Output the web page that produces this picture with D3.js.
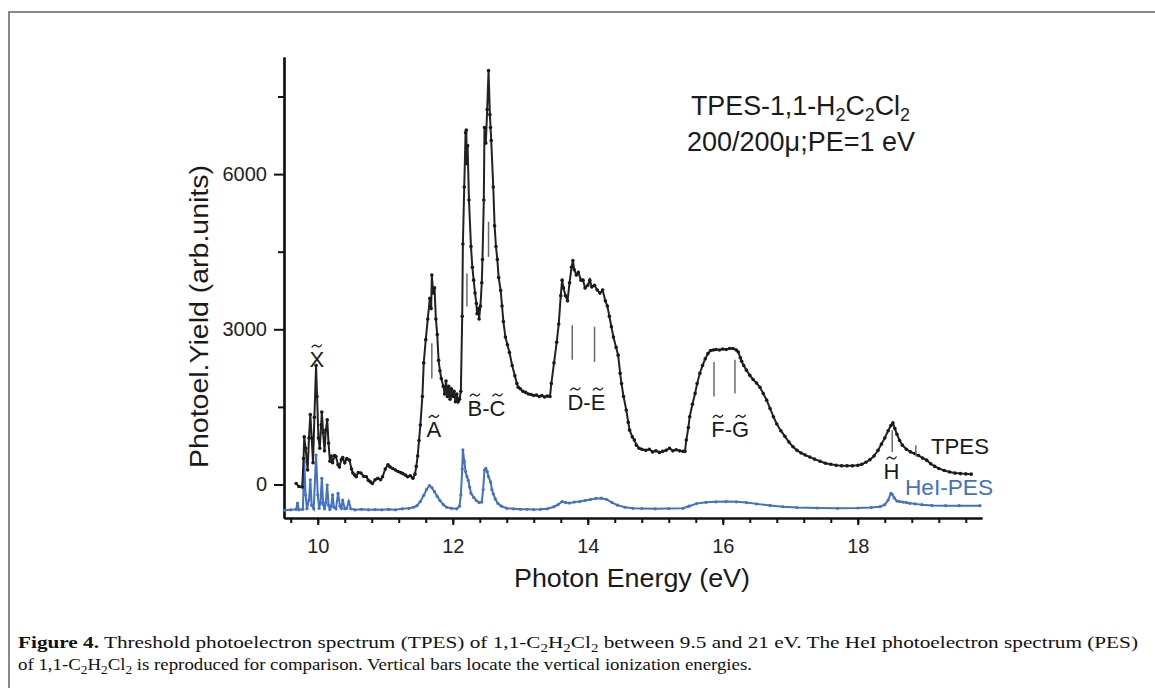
<!DOCTYPE html>
<html><head><meta charset="utf-8">
<script src="https://cdn.jsdelivr.net/npm/d3@7"></script>
<style>body{margin:0;background:#fff}svg{display:block}</style>
</head><body>
<svg id="c" width="1155" height="688"></svg>
<script>
// TPES spectrum: [photon energy (eV), yield]
const tpes = [
[9.68,20],[9.72,-40],[9.77,-50],[9.79,500],[9.80,920],[9.82,700],[9.85,280],[9.87,900],[9.89,1350],[9.91,900],
[9.93,420],[9.95,1300],[9.975,2300],[9.99,1700],[10.01,900],[10.03,700],[10.05,1150],[10.06,1400],[10.08,1000],[10.10,650],
[10.12,1050],[10.14,1250],[10.16,800],[10.18,450],[10.20,550],[10.22,420],[10.25,560],[10.27,540],[10.30,380],[10.32,340],
[10.35,480],[10.37,520],[10.40,420],[10.43,500],[10.47,470],[10.50,300],[10.52,220],[10.55,180],[10.57,150],[10.60,230],
[10.64,220],[10.68,160],[10.72,150],[10.75,80],[10.78,50],[10.81,20],[10.85,90],[10.89,120],[10.93,90],[10.96,150],
[11.00,300],[11.04,380],[11.07,340],[11.11,310],[11.15,280],[11.19,250],[11.23,230],[11.26,210],[11.30,180],[11.33,150],
[11.37,170],[11.41,120],[11.44,200],[11.46,350],[11.48,550],[11.50,850],[11.52,1150],[11.55,1700],[11.57,2350],[11.60,2800],
[11.63,3200],[11.66,3600],[11.68,3400],[11.69,4050],[11.71,3700],[11.73,3800],[11.75,3200],[11.77,2900],[11.79,2400],[11.81,2200],
[11.83,2050],[11.86,1900],[11.88,1750],[11.90,2000],[11.92,1700],[11.94,1900],[11.96,1650],[11.98,1850],[12.00,1700],[12.02,1800],
[12.04,1600],[12.06,1750],[12.08,1600],[12.10,1650],[12.12,1800],[12.14,3250],[12.15,4650],[12.17,5750],[12.19,6800],[12.20,6850],
[12.21,6200],[12.22,6550],[12.24,5500],[12.27,4600],[12.29,4200],[12.31,3950],[12.33,3700],[12.35,3500],[12.36,3300],[12.38,3400],
[12.39,3200],[12.41,3450],[12.43,3900],[12.44,4350],[12.46,5500],[12.47,6900],[12.49,6600],[12.51,7250],[12.53,8000],[12.55,7150],
[12.56,6900],[12.57,6650],[12.60,5750],[12.62,5000],[12.64,4600],[12.66,4350],[12.68,4000],[12.71,3750],[12.73,3450],[12.75,3150],
[12.78,2850],[12.81,2700],[12.84,2550],[12.88,2300],[12.92,2100],[12.95,1950],[12.97,1880],[13.00,1850],[13.04,1800],[13.08,1780],
[13.12,1750],[13.16,1740],[13.20,1720],[13.24,1730],[13.28,1700],[13.32,1720],[13.36,1690],[13.40,1710],[13.44,1700],[13.46,1950],
[13.50,2350],[13.54,2750],[13.57,3100],[13.60,3650],[13.62,3950],[13.64,3800],[13.67,3650],[13.70,3550],[13.73,3900],[13.76,4200],
[13.78,4330],[13.80,4150],[13.83,4050],[13.86,4100],[13.90,3950],[13.93,3950],[13.96,3800],[14.00,3850],[14.03,3950],[14.06,3820],
[14.10,3850],[14.14,3760],[14.18,3700],[14.22,3760],[14.26,3550],[14.29,3450],[14.32,3250],[14.35,3050],[14.38,2850],[14.42,2650],
[14.45,2500],[14.48,2150],[14.50,1950],[14.53,1700],[14.57,1440],[14.60,1200],[14.62,1050],[14.66,920],[14.69,860],[14.72,760],
[14.76,700],[14.80,680],[14.86,660],[14.91,680],[14.96,630],[15.01,650],[15.06,620],[15.11,640],[15.16,660],[15.21,700],
[15.26,650],[15.31,670],[15.36,650],[15.41,640],[15.44,640],[15.46,860],[15.49,1100],[15.51,1310],[15.55,1550],[15.59,1760],
[15.62,1950],[15.66,2150],[15.70,2300],[15.74,2430],[15.78,2530],[15.82,2590],[15.86,2600],[15.90,2610],[15.95,2600],[16.00,2620],
[16.05,2610],[16.10,2630],[16.15,2630],[16.20,2600],[16.23,2560],[16.26,2450],[16.28,2380],[16.31,2300],[16.35,2210],[16.40,2110],
[16.45,2030],[16.50,1960],[16.55,1880],[16.60,1760],[16.65,1630],[16.70,1470],[16.75,1310],[16.80,1170],[16.86,1040],[16.92,930],
[16.98,820],[17.04,730],[17.10,660],[17.16,610],[17.22,570],[17.29,530],[17.36,490],[17.44,450],[17.52,410],[17.60,390],
[17.68,370],[17.76,360],[17.84,360],[17.92,360],[18.00,370],[18.06,390],[18.12,430],[18.18,480],[18.24,550],[18.30,660],
[18.35,780],[18.40,900],[18.45,1040],[18.49,1140],[18.52,1190],[18.55,1080],[18.58,970],[18.62,850],[18.66,760],[18.72,680],
[18.78,630],[18.84,600],[18.90,560],[18.96,510],[19.02,470],[19.08,400],[19.14,350],[19.20,310],[19.28,270],[19.36,240],
[19.44,220],[19.52,210],[19.60,205],[19.68,200]
];
// HeI photoelectron spectrum: [photon energy (eV), yield]
const pes = [
[9.51,-500],[9.60,-490],[9.68,-480],[9.70,-360],[9.72,-490],[9.78,-480],[9.80,440],[9.82,-200],[9.84,-470],[9.87,-300],
[9.89,90],[9.91,-400],[9.94,-470],[9.975,570],[10.00,-200],[10.02,-460],[10.04,-350],[10.06,120],[10.08,-380],[10.10,-470],
[10.12,-350],[10.14,-10],[10.16,-400],[10.18,-480],[10.20,-420],[10.22,-200],[10.24,-440],[10.27,-470],[10.30,-170],[10.33,-420],
[10.35,-460],[10.37,-300],[10.40,-470],[10.43,-460],[10.46,-330],[10.49,-470],[10.55,-490],[10.65,-480],[10.75,-490],[10.85,-485],
[10.95,-490],[11.05,-480],[11.15,-490],[11.25,-470],[11.35,-460],[11.42,-440],[11.47,-410],[11.52,-330],[11.57,-210],[11.61,-100],
[11.655,-20],[11.69,-60],[11.73,-140],[11.77,-230],[11.81,-310],[11.86,-390],[11.91,-440],[11.98,-460],[12.06,-470],[12.10,-420],
[12.12,-200],[12.14,300],[12.15,670],[12.17,450],[12.19,250],[12.21,150],[12.23,80],[12.25,-50],[12.27,-170],[12.31,-250],
[12.35,-310],[12.39,-350],[12.43,-340],[12.45,-100],[12.47,280],[12.49,310],[12.51,250],[12.53,150],[12.56,50],[12.58,-100],
[12.60,-180],[12.63,-280],[12.67,-370],[12.72,-420],[12.80,-460],[12.90,-470],[13.00,-480],[13.10,-480],[13.20,-485],[13.30,-480],
[13.40,-470],[13.50,-430],[13.56,-390],[13.62,-330],[13.67,-350],[13.73,-360],[13.80,-340],[13.88,-330],[13.96,-310],[14.04,-290],
[14.12,-270],[14.20,-265],[14.28,-290],[14.36,-350],[14.44,-400],[14.55,-440],[14.67,-460],[14.80,-465],[15.00,-470],[15.20,-465],
[15.41,-460],[15.50,-420],[15.61,-370],[15.75,-345],[15.90,-335],[16.05,-330],[16.20,-335],[16.35,-350],[16.50,-375],[16.70,-405],
[16.89,-430],[17.10,-445],[17.40,-455],[17.70,-460],[18.00,-455],[18.20,-445],[18.33,-430],[18.40,-390],[18.45,-300],[18.49,-170],
[18.51,-190],[18.54,-260],[18.58,-320],[18.62,-330],[18.67,-340],[18.72,-350],[18.77,-365],[18.85,-375],[18.95,-390],[19.10,-405],
[19.30,-410],[19.50,-410],[19.81,-410]
];
// vertical ionization energy bars: [energy, yield from, yield to]
const ieBars = [
[11.69,2050,2730],[12.21,3440,4080],[12.53,4400,5080],[13.77,2410,3080],[14.10,2370,3050],
[15.87,1700,2370],[16.18,1760,2410],[18.51,630,1050],[18.86,540,760]
];
// state labels (tilde over each letter): [text, centre energy, yield at baseline]
const stateLabels = [
["X",9.985,2271],["A",11.72,909],["B-C",12.50,1324],["D-E",13.98,1440],["F-G",16.11,912],["H",18.50,106]
];
const xMajor = [10,12,14,16,18];
const xMinor = [9.6,10,10.4,10.8,11.2,11.6,12,12.4,12.8,13.2,13.6,14,14.4,14.8,15.2,15.6,16,16.4,16.8,17.2,17.6,18,18.4,18.8,19.2,19.6];
const yMajor = [0,3000,6000];
const yMinor = [1500,4500,7500];

const svg = d3.select('#c');
const SANS = '"Liberation Sans", Arial, sans-serif';
svg.append('rect').attr('x',9).attr('y',12).attr('width',1170).attr('height',700)
  .attr('fill','none').attr('stroke','#888').attr('stroke-width',2);

const x = d3.scaleLinear().domain([9.5,19.84]).range([284,982]);
const y = d3.scaleLinear().domain([-648,8264]).range([518,57]);

// axes
const gxMin = svg.append('g').attr('transform','translate(0,518)')
  .call(d3.axisBottom(x).tickValues(xMinor).tickSize(5).tickSizeOuter(0).tickFormat(''));
const gx = svg.append('g').attr('transform','translate(0,518)')
  .call(d3.axisBottom(x).tickValues(xMajor).tickSize(7).tickSizeOuter(0).tickPadding(14).tickFormat(d3.format('d')));
const gyMin = svg.append('g').attr('transform','translate(284,0)')
  .call(d3.axisLeft(y).tickValues(yMinor).tickSize(6).tickSizeOuter(0).tickFormat(''));
const gy = svg.append('g').attr('transform','translate(284,0)')
  .call(d3.axisLeft(y).tickValues(yMajor).tickSize(10).tickSizeOuter(0).tickPadding(7).tickFormat(d3.format('d')));
[gxMin,gx,gyMin,gy].forEach(g=>{
  g.selectAll('path.domain').attr('stroke','#111').attr('stroke-width',2.2);
  g.selectAll('.tick line').attr('stroke','#111').attr('stroke-width',2);
  g.selectAll('.tick text').attr('font-family',SANS).attr('font-size',20).attr('fill','#222');
});

// curves
const line = d3.line().x(d=>x(d[0])).y(d=>y(d[1]));
svg.append('path').datum(pes).attr('d',line).attr('fill','none').attr('stroke','#4470c8').attr('stroke-width',2);
svg.append('g').selectAll('circle').data(pes).join('circle')
  .attr('cx',d=>x(d[0])).attr('cy',d=>y(d[1])).attr('r',1.6).attr('fill','#4470c8');
svg.append('path').datum(tpes).attr('d',line).attr('fill','none').attr('stroke','#222').attr('stroke-width',2);
svg.append('g').selectAll('circle').data(tpes).join('circle')
  .attr('cx',d=>x(d[0])).attr('cy',d=>y(d[1])).attr('r',1.8).attr('fill','#1a1a1a');

// ionization bars
svg.append('g').selectAll('line').data(ieBars).join('line')
  .attr('x1',d=>x(d[0])).attr('x2',d=>x(d[0])).attr('y1',d=>y(d[1])).attr('y2',d=>y(d[2]))
  .attr('stroke','#6a6a6a').attr('stroke-width',1.5);

// state labels with tildes drawn over letters
const lab = svg.append('g').attr('font-family',SANS).attr('fill','#1a1a1a').attr('text-anchor','middle');
stateLabels.forEach(([t,e,v])=>{
  const tx = lab.append('text').attr('x',x(e)).attr('y',y(v)).attr('font-size',22).text(t);
  const node = tx.node();
  for (let i=0;i<t.length;i++){
    if (t[i]==='-') continue;
    const b = node.getExtentOfChar(i);
    const cx = b.x + b.width/2, cy = y(v) - 21;
    lab.append('path').attr('d',`M${cx-5},${cy+1.5} Q${cx-2.5},${cy-2.5} ${cx},${cy} T${cx+5},${cy-1.5}`)
      .attr('fill','none').attr('stroke','#1a1a1a').attr('stroke-width',1.3);
  }
});

// series names
svg.append('text').attr('x',931).attr('y',454).attr('font-family',SANS).attr('font-size',22).attr('fill','#1a1a1a')
  .attr('textLength',58).attr('lengthAdjust','spacingAndGlyphs').text('TPES');
svg.append('text').attr('x',905).attr('y',495).attr('font-family',SANS).attr('font-size',22).attr('fill','#4470c8')
  .attr('textLength',88).attr('lengthAdjust','spacingAndGlyphs').text('HeI-PES');

// title
const t1 = svg.append('text').attr('x',691).attr('y',115).attr('font-family',SANS).attr('font-size',27).attr('fill','#1a1a1a')
  .attr('textLength',219).attr('lengthAdjust','spacingAndGlyphs');
t1.append('tspan').text('TPES-1,1-H');
t1.append('tspan').attr('dy',6).attr('font-size',18).text('2');
t1.append('tspan').attr('dy',-6).text('C');
t1.append('tspan').attr('dy',6).attr('font-size',18).text('2');
t1.append('tspan').attr('dy',-6).text('Cl');
t1.append('tspan').attr('dy',6).attr('font-size',18).text('2');
svg.append('text').attr('x',687).attr('y',151).attr('font-family',SANS).attr('font-size',27).attr('fill','#1a1a1a')
  .attr('textLength',228).attr('lengthAdjust','spacingAndGlyphs').text('200/200\u03bc;PE=1 eV');

// axis titles
svg.append('text').attr('x',514).attr('y',587).attr('font-family',SANS).attr('font-size',26).attr('fill','#1a1a1a')
  .attr('textLength',236).attr('lengthAdjust','spacingAndGlyphs').text('Photon Energy (eV)');
svg.append('text').attr('transform','translate(208,468) rotate(-90)').attr('font-family',SANS).attr('font-size',26).attr('fill','#1a1a1a')
  .attr('textLength',303).attr('lengthAdjust','spacingAndGlyphs').text('Photoel.Yield (arb.units)');

// caption
const SERIF = '"Liberation Serif", "DejaVu Serif", serif';
const c1 = svg.append('text').attr('x',18).attr('y',648).attr('font-family',SERIF).attr('font-size',17).attr('fill','#111')
  .attr('textLength',1120).attr('lengthAdjust','spacingAndGlyphs');
c1.append('tspan').attr('font-weight','bold').text('Figure 4.');
c1.append('tspan').text(' Threshold photoelectron spectrum (TPES) of 1,1-C');
c1.append('tspan').attr('dy',4).attr('font-size',12).text('2');
c1.append('tspan').attr('dy',-4).text('H');
c1.append('tspan').attr('dy',4).attr('font-size',12).text('2');
c1.append('tspan').attr('dy',-4).text('Cl');
c1.append('tspan').attr('dy',4).attr('font-size',12).text('2');
c1.append('tspan').attr('dy',-4).text(' between 9.5 and 21  eV. The HeI photoelectron spectrum (PES)');
const c2 = svg.append('text').attr('x',18).attr('y',670).attr('font-family',SERIF).attr('font-size',17).attr('fill','#111')
  .attr('textLength',734).attr('lengthAdjust','spacingAndGlyphs');
c2.append('tspan').text('of 1,1-C');
c2.append('tspan').attr('dy',4).attr('font-size',12).text('2');
c2.append('tspan').attr('dy',-4).text('H');
c2.append('tspan').attr('dy',4).attr('font-size',12).text('2');
c2.append('tspan').attr('dy',-4).text('Cl');
c2.append('tspan').attr('dy',4).attr('font-size',12).text('2');
c2.append('tspan').attr('dy',-4).text(' is reproduced for comparison. Vertical bars locate the vertical ionization energies.');
</script>
</body></html>
